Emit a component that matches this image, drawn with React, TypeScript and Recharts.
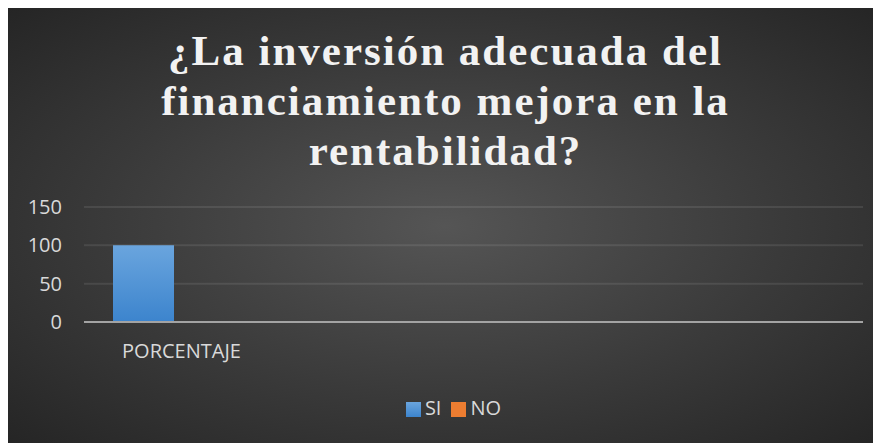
import { BarChart, Bar, XAxis, YAxis, CartesianGrid, Legend } from 'recharts';

const categories = ['PORCENTAJE', ' ', '  ', '   '];
const siValues = [100, null, null, null];
const noValues = [0, null, null, null];
const seriesOrder = ['SI', 'NO'];
const yTicks = [0, 50, 100, 150];
const titleLines = ['¿La inversión adecuada del', 'financiamiento mejora en la', 'rentabilidad?'];

const data = categories.map((category, i) => ({
  category,
  SI: siValues[i],
  NO: noValues[i],
}));

const W = 873;
const H = 436;

export default function App() {
  return (
    <div
      style={{
        position: 'relative',
        width: W,
        height: H,
        background: 'radial-gradient(ellipse farthest-corner at 50% 50%, #555555 0%, #3a3a3a 55%, #252525 100%)',
      }}
    >
      <div
        style={{
          position: 'absolute',
          top: 18,
          left: 0,
          width: W,
          paddingLeft: 2,
          boxSizing: 'border-box',
          textAlign: 'center',
          fontFamily: '"Liberation Serif", "Times New Roman", serif',
          fontWeight: 'bold',
          fontSize: 43,
          lineHeight: '50px',
          letterSpacing: 2,
          color: '#f2f2f2',
        }}
      >
        {titleLines.map((line) => (
          <div key={line}>{line}</div>
        ))}
      </div>
      <BarChart
        width={W}
        height={H}
        data={data}
        margin={{ top: 199, right: 18, left: 0, bottom: 23 }}
        style={{ position: 'absolute', top: 0, left: 0 }}
      >
        <defs>
          <linearGradient id="siFill" x1="0" y1="0" x2="0" y2="1">
            <stop offset="0%" stopColor="#6aa5de" />
            <stop offset="100%" stopColor="#3c84cd" />
          </linearGradient>
        </defs>
        <CartesianGrid vertical={false} stroke="rgba(255,255,255,0.09)" strokeWidth={2} />
        <XAxis
          dataKey="category"
          height={72}
          padding={{ left: 0, right: 47 }}
          axisLine={{ stroke: '#a3a3a3', strokeWidth: 2 }}
          tickLine={false}
          tickMargin={16}
          tick={{ fontSize: 20, fill: '#d9d9d9', fontFamily: '"Open Sans", sans-serif', dx: 6 }}
          interval={0}
        />
        <YAxis
          width={76}
          domain={[0, 150]}
          ticks={yTicks}
          axisLine={false}
          tickLine={false}
          tickSize={0}
          tickMargin={22}
          tick={{ fontSize: 20, fill: '#d9d9d9', fontFamily: '"Open Sans", sans-serif' }}
        />
        <Legend
          verticalAlign="bottom"
          align="center"
          iconType="square"
          iconSize={15}
          itemSorter={(item) => seriesOrder.indexOf(String(item.value))}
          wrapperStyle={{ left: 28, width: 845, fontSize: 20, fontFamily: '"Open Sans", sans-serif', color: '#d9d9d9' }}
          formatter={(value) => <span style={{ color: '#d9d9d9' }}>{value}</span>}
        />
        <Bar dataKey="SI" fill="url(#siFill)" barSize={61} isAnimationActive={false} legendType="square" />
        <Bar dataKey="NO" fill="#ed7d31" barSize={61} isAnimationActive={false} legendType="square" />
      </BarChart>
    </div>
  );
}
